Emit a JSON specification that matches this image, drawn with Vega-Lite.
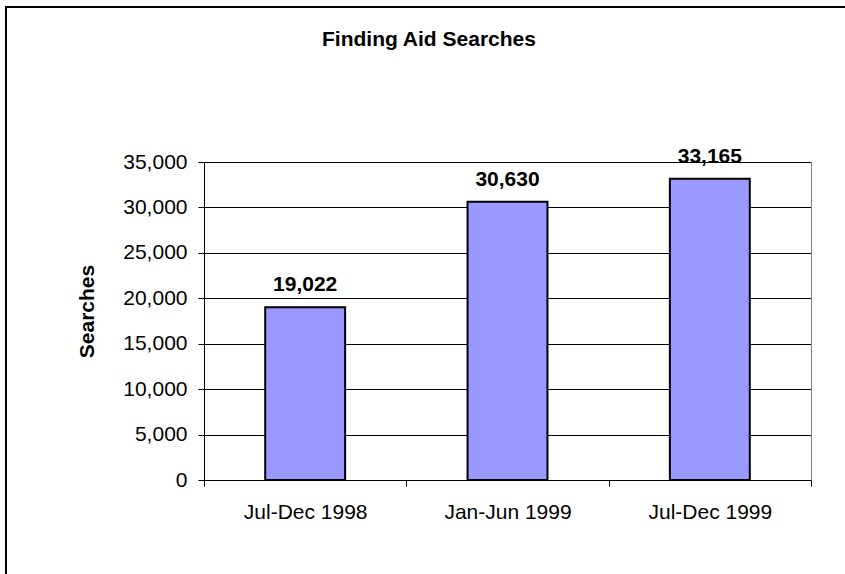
{
  "$schema": "https://vega.github.io/schema/vega-lite/v6.json",
  "width": 839,
  "height": 567,
  "autosize": "none",
  "padding": {"left": 6, "top": 7, "right": 0, "bottom": 0},
  "background": "white",
  "data": {
    "values": [
      {"period": "Jul-Dec 1998", "searches": 19022},
      {"period": "Jan-Jun 1999", "searches": 30630},
      {"period": "Jul-Dec 1999", "searches": 33165}
    ]
  },
  "title": {
    "text": "Finding Aid Searches",
    "font": "Liberation Sans",
    "fontSize": 21,
    "fontWeight": "bold",
    "color": "black",
    "anchor": "start",
    "frame": "group",
    "baseline": "alphabetic",
    "offset": -60,
    "dx": 316
  },
  "encoding": {
    "x": {
      "field": "period",
      "type": "nominal",
      "sort": null,
      "scale": {"type": "band", "range": [198, 805], "paddingInner": 0, "paddingOuter": 0},
      "axis": {
        "title": null,
        "orient": "bottom",
        "offset": -94,
        "labelAngle": 0,
        "tickBand": "extent",
        "domainColor": "black",
        "domainWidth": 1,
        "tickColor": "black",
        "tickSize": 6,
        "tickWidth": 1,
        "labelFont": "Liberation Sans",
        "labelFontSize": 21,
        "labelColor": "black",
        "labelPadding": 15,
        "grid": false
      }
    }
  },
  "layer": [
    {
      "mark": {"type": "bar", "fill": "#9999FF", "stroke": "black", "strokeWidth": 2, "width": {"band": 0.395}},
      "encoding": {
        "y": {
          "field": "searches",
          "type": "quantitative",
          "scale": {"domain": [0, 35000], "range": [473, 155], "nice": false, "zero": true},
          "axis": {
            "orient": "left",
            "offset": -198,
            "values": [0, 5000, 10000, 15000, 20000, 25000, 30000, 35000],
            "format": ",.0f",
            "grid": true,
            "gridColor": "black",
            "gridWidth": 1,
            "gridOpacity": 1,
            "domainColor": "black",
            "domainWidth": 1,
            "tickColor": "black",
            "tickSize": 6,
            "tickWidth": 1,
            "labelFont": "Liberation Sans",
            "labelFontSize": 21,
            "labelColor": "black",
            "labelPadding": 11,
            "labelFlush": false,
            "labelOverlap": false,
            "title": "Searches",
            "titleFont": "Liberation Sans",
            "titleFontSize": 21,
            "titleFontWeight": "bold",
            "titleColor": "black",
            "titleAngle": -90,
            "titleX": -111,
            "titleY": 304,
            "titleAlign": "center",
            "titleBaseline": "alphabetic"
          }
        }
      }
    },
    {
      "mark": {"type": "text", "font": "Liberation Sans", "fontSize": 21, "fontWeight": "bold", "baseline": "alphabetic", "dy": -16, "color": "black"},
      "encoding": {
        "y": {
          "field": "searches",
          "type": "quantitative",
          "axis": {
            "orient": "right",
            "offset": -34,
            "labels": false,
            "ticks": false,
            "grid": false,
            "title": null,
            "domainColor": "#808080",
            "domainWidth": 1
          }
        },
        "text": {"field": "searches", "type": "quantitative", "format": ","}
      }
    }
  ],
  "resolve": {"axis": {"y": "independent"}},
  "config": {
    "view": {"stroke": "black", "strokeWidth": 2, "fill": "white", "strokeDash": [839, 1406, 567]}
  }
}
